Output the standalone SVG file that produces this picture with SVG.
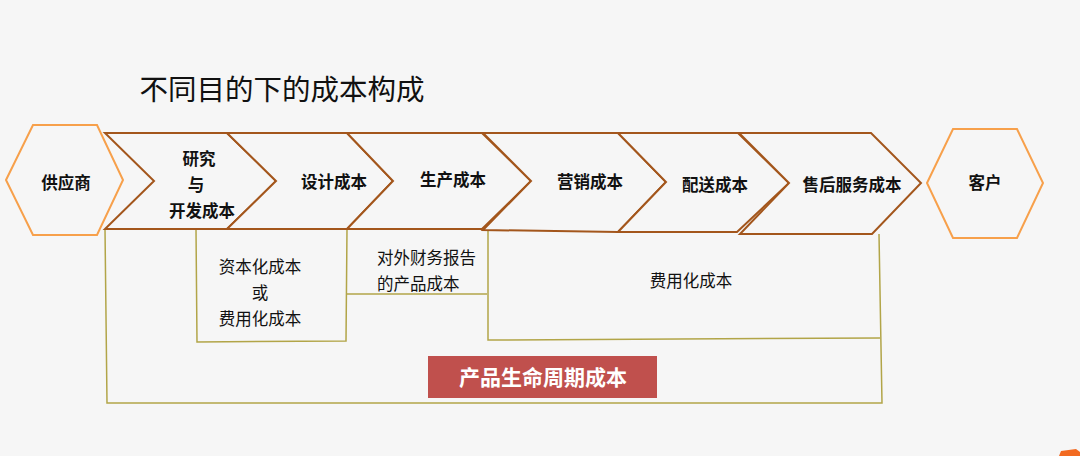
<svg xmlns="http://www.w3.org/2000/svg" width="1080" height="456" viewBox="0 0 1080 456">
<style>
.hex{fill:none;stroke:#f7a04b;stroke-width:2}
.chev{fill:#f6f6f6;stroke:#a3561c;stroke-width:2;stroke-linejoin:miter}
.br{fill:none;stroke:#b2a548;stroke-width:1.5}
.t{font-family:"Noto Sans CJK SC","Noto Sans",sans-serif;fill:#111;text-anchor:middle}
.b{font-weight:bold;font-size:16.5px}
.n{font-size:16.5px}
</style>
<rect width="1080" height="456" fill="#f6f6f6"/>
<text class="t" x="282" y="100" font-size="28.5">不同目的下的成本构成</text>
<g id="connectors">
<polyline class="br" points="105,229 107,403 882,403 879,234"/>
<polyline class="br" points="196,229 197,342 346,341 347,229"/>
<polyline class="br" points="347,294 487,294"/>
<polyline class="br" points="488,229 488,340 880,338"/>
</g>
<g id="supplier">
<polygon class="hex" points="6,180 33,125 97,125 123,180 97,235 33,235"/>
<text class="t b" x="66" y="189">供应商</text>
</g>
<g id="rd">
<polygon class="chev" points="105,133 227,133 276,181 227,229 105,229 154,181"/>
<text class="t b" x="199" y="165">研究</text>
<text class="t b" x="196" y="191">与</text>
<text class="t b" x="202" y="217">开发成本</text>
</g>
<g id="design">
<polygon class="chev" points="227,133 347,133 393,181 347,229 227,229 276,181"/>
<text class="t b" x="334" y="188">设计成本</text>
</g>
<g id="production">
<polygon class="chev" points="347,133 482,133 531,181 482,229 347,229 393,181"/>
<text class="t b" x="453" y="186">生产成本</text>
</g>
<g id="marketing">
<polygon class="chev" points="483,133 618,133 666,182 618,232 483,230 531,181"/>
<text class="t b" x="590" y="188">营销成本</text>
</g>
<g id="delivery">
<polygon class="chev" points="618,133 738,133 789,183 737,232 618,232 666,182"/>
<text class="t b" x="715" y="191">配送成本</text>
</g>
<g id="aftersales">
<polygon class="chev" points="739,133 871,133 921,183 872,234 740,234 789,183"/>
<text class="t b" x="852" y="191">售后服务成本</text>
</g>
<g id="customer">
<polygon class="hex" points="927,183 953,129 1017,129 1043,183 1017,238 953,238"/>
<text class="t b" x="985" y="189">客户</text>
</g>
<g id="capital">
<text class="t n" x="260" y="273">资本化成本</text>
<text class="t n" x="260" y="299">或</text>
<text class="t n" x="260" y="325">费用化成本</text>
</g>
<g id="external">
<text class="t n" x="377" y="264" style="text-anchor:start">对外财务报告</text>
<text class="t n" x="377" y="290" style="text-anchor:start">的产品成本</text>
</g>
<g id="expensed">
<text class="t n" x="691" y="287">费用化成本</text>
</g>
<g id="lifecycle">
<rect x="428" y="356" width="229" height="42" fill="#c0504d"/>
<text class="t" x="543" y="385" font-size="21" font-weight="bold" style="fill:#fff">产品生命周期成本</text>
</g>
<path d="M1059,456 L1061,451 L1076,449 L1080,452 L1080,456 Z" fill="#f26a21"/>
</svg>
